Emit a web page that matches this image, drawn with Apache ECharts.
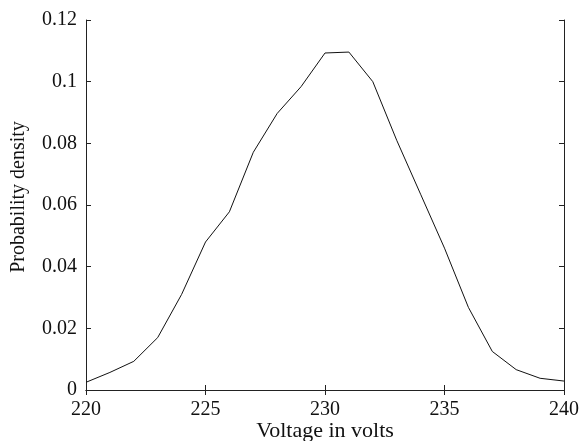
<!DOCTYPE html>
<html>
<head>
<meta charset="utf-8">
<script src="https://cdn.jsdelivr.net/npm/echarts@6/dist/echarts.min.js"></script>
<style>
html,body{margin:0;padding:0;background:#fff;}
#chart{width:584px;height:441px;}
</style>
</head>
<body>
<div id="chart"></div>
<script>
var voltages = [220,221,222,223,224,225,226,227,228,229,230,231,232,233,234,235,236,237,238,239,240];
var density = [0.0025,0.0057,0.0093,0.0170,0.0310,0.0480,0.0578,0.0771,0.0897,0.0984,0.1093,0.1096,0.1000,0.0810,0.0635,0.0460,0.0268,0.0125,0.0066,0.0038,0.0029];
var xTitle = 'Voltage in volts';
var yTitle = 'Probability density';

var chart = echarts.init(document.getElementById('chart'), null, {renderer:'canvas'});
var font = 'Liberation Serif';
var axisLine = {show:true, lineStyle:{color:'#222', width:1}};
var tickIn = {show:true, inside:true, length:5, lineStyle:{color:'#222', width:1}};
chart.setOption({
  animation:false,
  backgroundColor:'#fff',
  grid:{left:86, right:20, top:20, bottom:51, show:false, containLabel:false, outerBoundsMode:'none'},
  xAxis:[{
    type:'value', min:220, max:240, interval:5,
    name:xTitle, nameLocation:'middle', nameGap:30, nameMoveOverlap:false,
    nameTextStyle:{fontFamily:font, fontSize:22, color:'#111'},
    axisLine:axisLine, axisTick:tickIn, splitLine:{show:false},
    axisLabel:{fontFamily:font, fontSize:20, color:'#111', margin:10}
  },{
    type:'value', min:220, max:240, interval:5, position:'top',
    axisLine:axisLine, axisTick:tickIn, splitLine:{show:false},
    axisLabel:{show:false}
  }],
  yAxis:[{
    type:'value', min:0, max:0.12, interval:0.02,
    name:yTitle, nameLocation:'middle', nameGap:57,
    nameTextStyle:{fontFamily:font, fontSize:20, color:'#111', padding:[0,0,0,16]},
    axisLine:axisLine, axisTick:tickIn, splitLine:{show:false},
    axisLabel:{fontFamily:font, fontSize:20, color:'#111', margin:9}
  },{
    type:'value', min:0, max:0.12, interval:0.02, position:'right',
    axisLine:axisLine, axisTick:tickIn, splitLine:{show:false},
    axisLabel:{show:false}
  }],
  series:[{
    type:'line',
    data: voltages.map(function(v,i){return [v, density[i]];}),
    showSymbol:false, symbol:'none',
    lineStyle:{color:'#111', width:1},
    z:3
  }]
});
</script>
</body>
</html>
